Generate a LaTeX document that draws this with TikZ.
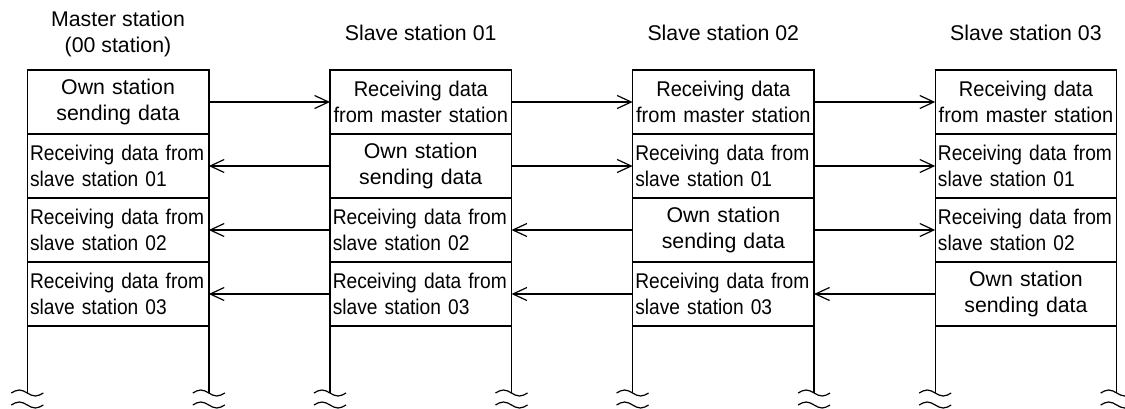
\documentclass[tikz,border=0pt]{standalone}
\usepackage{fontspec}
\setmainfont{Liberation Sans}
\newfontfamily\narrowsans[FakeStretch=0.9]{Liberation Sans}
\newfontfamily\semisans[FakeStretch=0.94]{Liberation Sans}
\usetikzlibrary{arrows.meta}
\newcommand\cellfont{\fontsize{21.3}{26.7}\selectfont}
\newcommand\lcellfont{\narrowsans\fontsize{21.3}{26.7}\selectfont}
\newcommand\rcellfont{\semisans\fontsize{21.3}{26.7}\selectfont}
\begin{document}
\begin{tikzpicture}[x=1pt,y=-1pt,
  cell/.style={draw, line width=1.4pt, outer sep=0pt, minimum width=181.5pt, minimum height=64pt,
    text width=176pt, inner xsep=2.75pt, inner ysep=0pt, anchor=north west, font=\cellfont},
  lcell/.style={cell, align=left, font=\lcellfont},
  ccell/.style={cell, align=center},
  rcell/.style={cell, align=center, font=\rcellfont},
  msg/.style={line width=1.2pt, -{Straight Barb[length=14pt,width=13pt,line width=1.2pt]}},
  life/.style={line width=1.4pt},
  title/.style={font=\cellfont, align=center},
  brk/.pic={
    \draw[line width=1.2pt] (-16,0) sin (-8,-3) cos (0,0) sin (8,3) cos (16,0);
    \draw[line width=1.2pt] (-16,12) sin (-8,9) cos (0,12) sin (8,15) cos (16,12);
  }]
\useasboundingbox (0,0) rectangle (1125,408);

% station headings
\node[title] (tm) at (118,34) {Master station\\(00 station)};
\node[title, anchor=base] (t1) at (420.7,40) {Slave station 01};
\node[title, anchor=base] (t2) at (723.3,40) {Slave station 02};
\node[title, anchor=base] (t3) at (1025.9,40) {Slave station 03};

% master station
\node[ccell] (m1) at (27.3,70)  {Own station\\sending data};
\node[lcell] (m2) at (27.3,134) {Receiving data from\\slave station 01};
\node[lcell] (m3) at (27.3,198) {Receiving data from\\slave station 02};
\node[lcell] (m4) at (27.3,262) {Receiving data from\\slave station 03};

% slave station 01
\node[rcell] (a1) at (330,70)  {Receiving data\\from master station};
\node[ccell] (a2) at (330,134) {Own station\\sending data};
\node[lcell] (a3) at (330,198) {Receiving data from\\slave station 02};
\node[lcell] (a4) at (330,262) {Receiving data from\\slave station 03};

% slave station 02
\node[rcell] (b1) at (632.6,70)  {Receiving data\\from master station};
\node[lcell] (b2) at (632.6,134) {Receiving data from\\slave station 01};
\node[ccell] (b3) at (632.6,198) {Own station\\sending data};
\node[lcell] (b4) at (632.6,262) {Receiving data from\\slave station 03};

% slave station 03
\node[rcell] (c1) at (935.2,70)  {Receiving data\\from master station};
\node[lcell] (c2) at (935.2,134) {Receiving data from\\slave station 01};
\node[lcell] (c3) at (935.2,198) {Receiving data from\\slave station 02};
\node[ccell] (c4) at (935.2,262) {Own station\\sending data};

% lifelines continuing below the last frame
\coordinate (mL) at (27.3,393);   \coordinate (mR) at (208.8,393);
\coordinate (aL) at (330,393);    \coordinate (aR) at (511.5,393);
\coordinate (bL) at (632.6,393);  \coordinate (bR) at (814.1,393);
\coordinate (cL) at (935.2,393);  \coordinate (cR) at (1116.7,393);
\foreach \n in {m,a,b,c}{
  \draw[life] (\n4.south west) -- (\n L);
  \draw[life] (\n4.south east) -- (\n R);
}
\foreach \p in {mL,mR,aL,aR,bL,bR,cL,cR}
  \pic at (\p) {brk};

% transfers
\draw[msg] (m1.east) -- (a1.west);
\draw[msg] (a1.east) -- (b1.west);
\draw[msg] (b1.east) -- (c1.west);

\draw[msg] (a2.west) -- (m2.east);
\draw[msg] (a2.east) -- (b2.west);
\draw[msg] (b2.east) -- (c2.west);

\draw[msg] (a3.west) -- (m3.east);
\draw[msg] (b3.west) -- (a3.east);
\draw[msg] (b3.east) -- (c3.west);

\draw[msg] (a4.west) -- (m4.east);
\draw[msg] (b4.west) -- (a4.east);
\draw[msg] (c4.west) -- (b4.east);
\end{tikzpicture}
\end{document}
